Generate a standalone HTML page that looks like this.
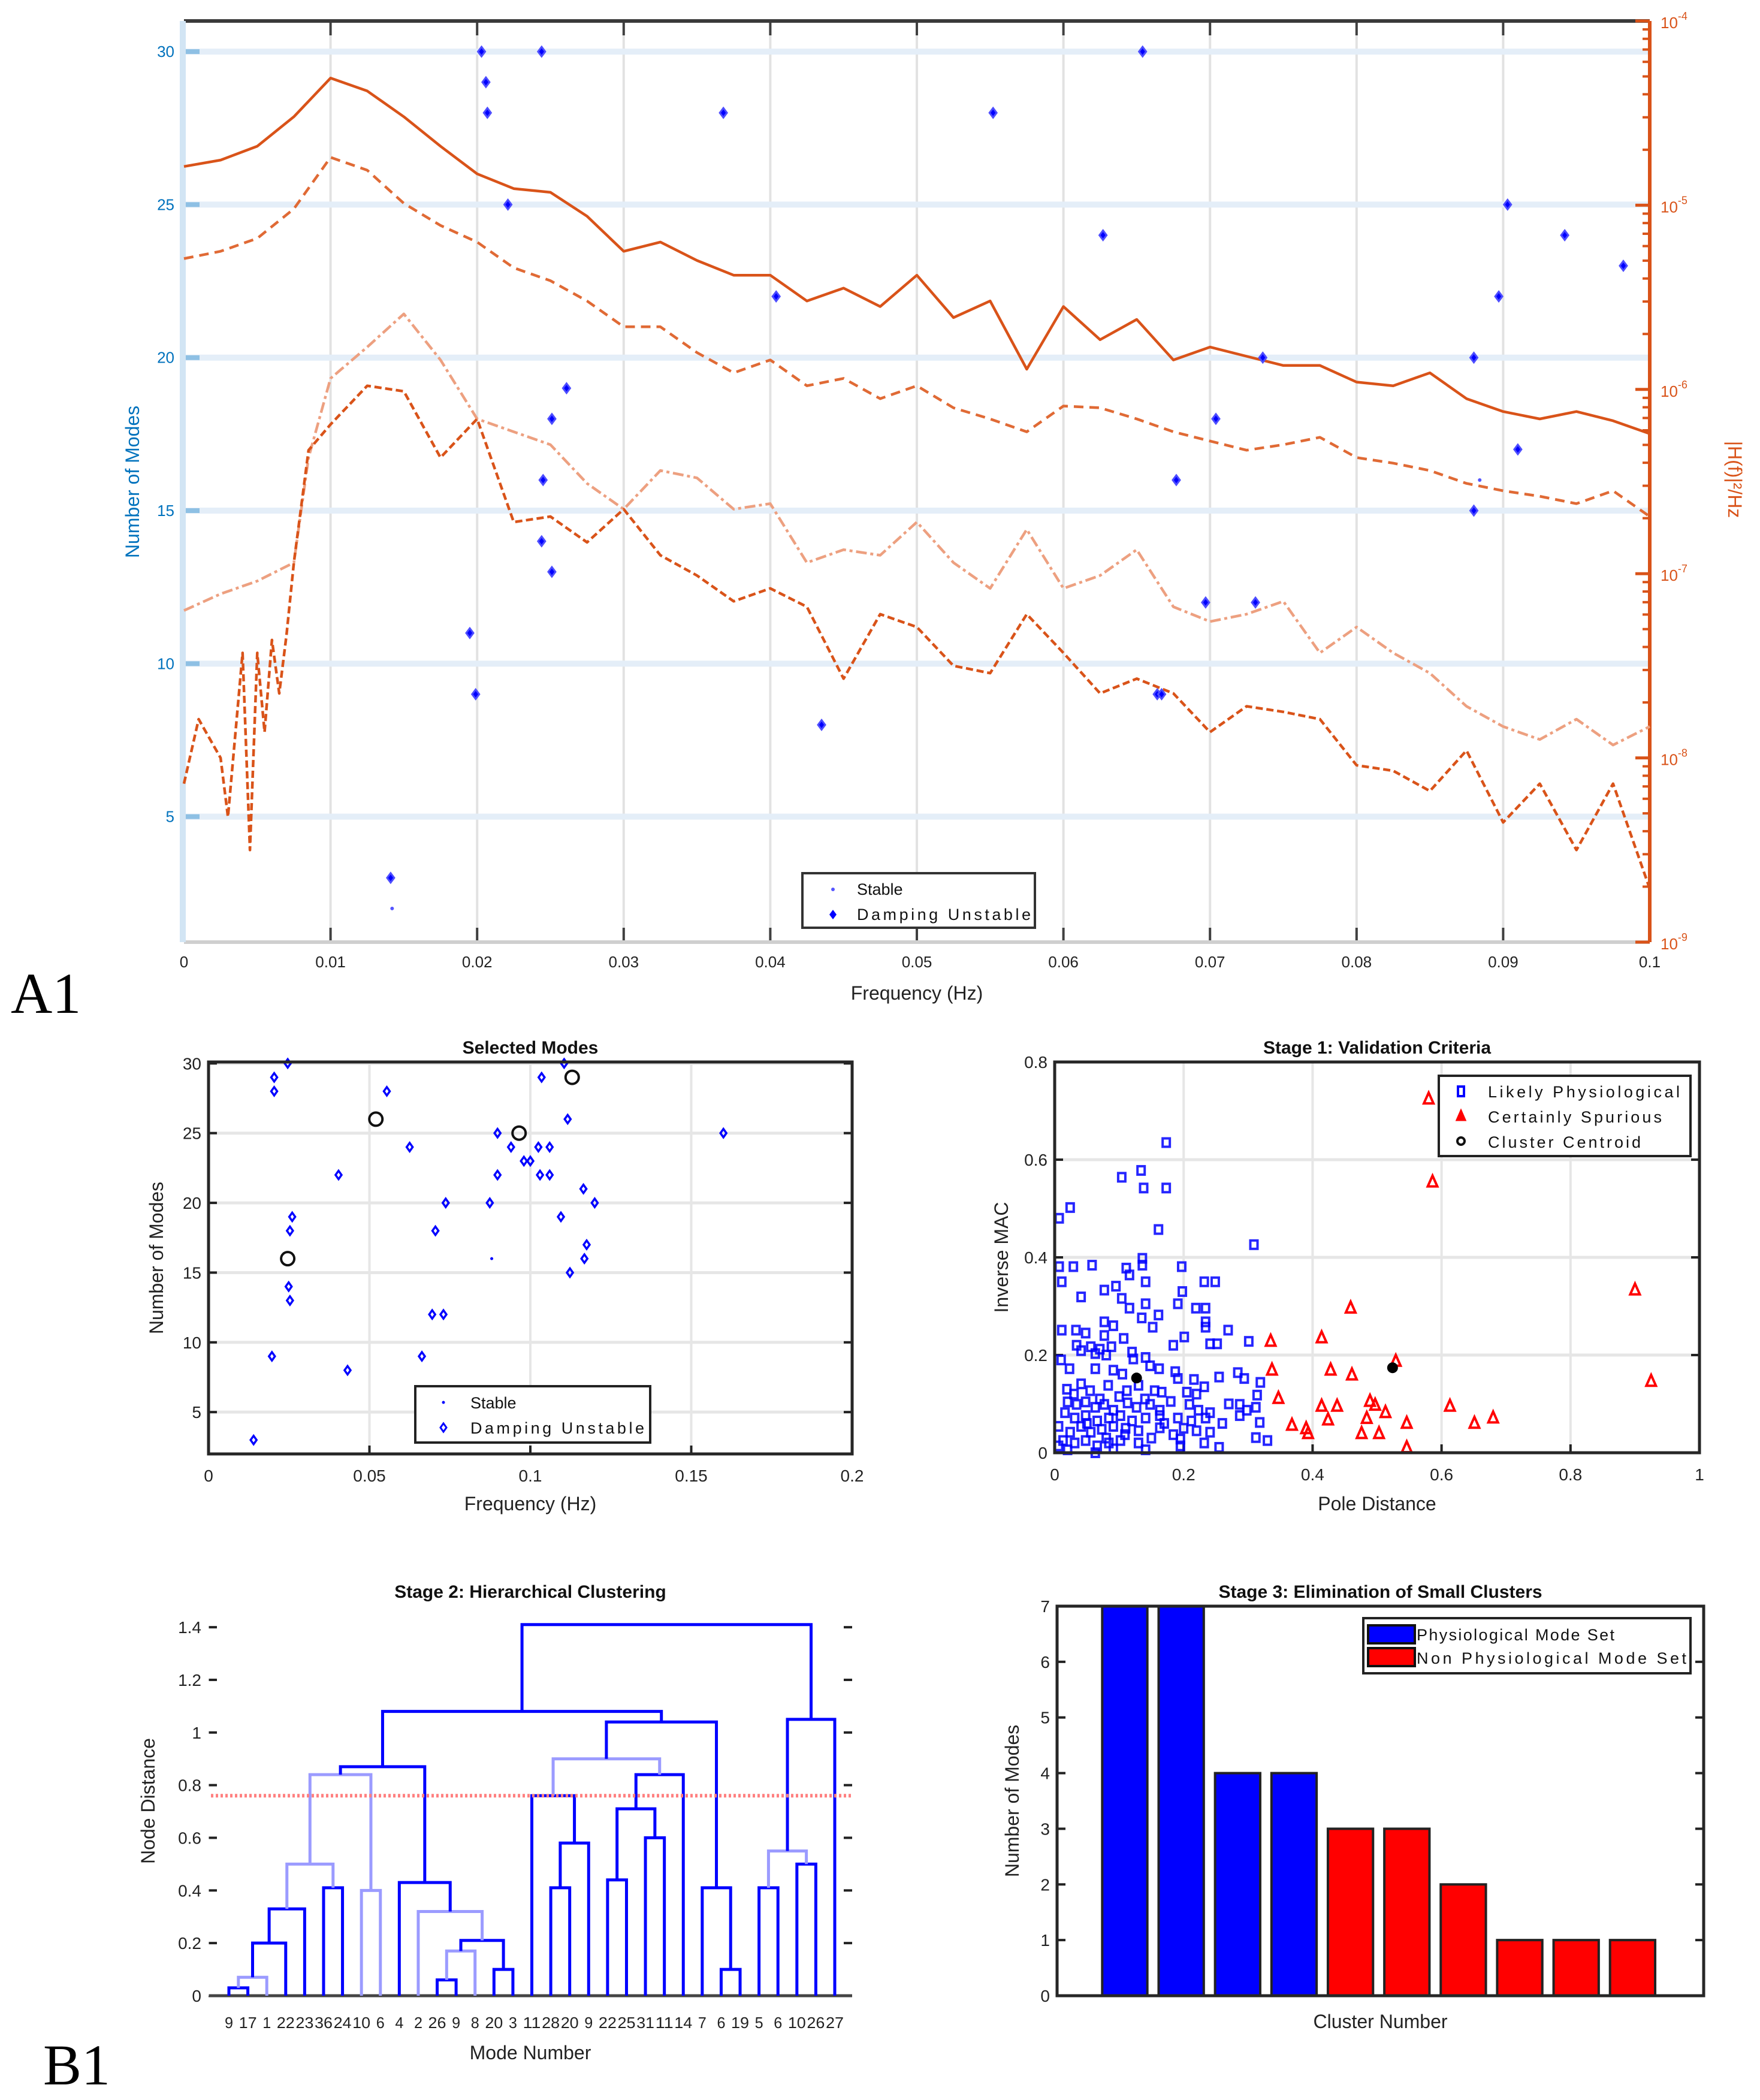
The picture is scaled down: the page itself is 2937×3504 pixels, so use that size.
<!DOCTYPE html>
<html><head><meta charset="utf-8">
<style>
html,body{margin:0;padding:0;background:#fff;}
svg{display:block;font-family:"Liberation Sans",Arial,sans-serif;}
</style></head>
<body>
<svg id="chart" xmlns="http://www.w3.org/2000/svg" width="2937" height="3504" viewBox="0 0 2937 3504">
<rect x="0" y="0" width="2937" height="3504" fill="#fff"/>
<text x="18" y="1690" font-family="Liberation Serif,serif" font-size="96">A1</text>
<text x="72" y="3478" font-family="Liberation Serif,serif" font-size="96">B1</text>
</svg>
<script>
// ===== A1 data =====
const psdFreq = [0,0.0025,0.005,0.0075,0.01,0.0125,0.015,0.0175,0.02,0.0225,0.025,0.0275,0.03,0.0325,0.035,0.0375,0.04,0.0425,0.045,0.0475,0.05,0.0525,0.055,0.0575,0.06,0.0625,0.065,0.0675,0.07,0.0725,0.075,0.0775,0.08,0.0825,0.085,0.0875,0.09,0.0925,0.095,0.0975,0.1];
const psd1Log = [-4.79,-4.755,-4.68,-4.52,-4.31,-4.38,-4.52,-4.68,-4.83,-4.91,-4.93,-5.06,-5.25,-5.2,-5.3,-5.38,-5.38,-5.52,-5.45,-5.55,-5.38,-5.61,-5.52,-5.89,-5.55,-5.73,-5.62,-5.84,-5.77,-5.82,-5.87,-5.87,-5.96,-5.98,-5.91,-6.05,-6.12,-6.16,-6.12,-6.17,-6.24];
const psd2Log = [-5.29,-5.25,-5.18,-5.02,-4.74,-4.81,-4.99,-5.11,-5.2,-5.34,-5.41,-5.52,-5.66,-5.66,-5.8,-5.91,-5.84,-5.98,-5.94,-6.05,-5.98,-6.1,-6.16,-6.23,-6.09,-6.1,-6.16,-6.23,-6.28,-6.33,-6.3,-6.26,-6.37,-6.4,-6.44,-6.51,-6.55,-6.58,-6.62,-6.55,-6.69];
const psd3Freq = [0,0.0025,0.005,0.0075,0.0085,0.01,0.0125,0.015,0.0175,0.02,0.0225,0.025,0.0275,0.03,0.0325,0.035,0.0375,0.04,0.0425,0.045,0.0475,0.05,0.0525,0.055,0.0575,0.06,0.0625,0.065,0.0675,0.07,0.0725,0.075,0.0775,0.08,0.0825,0.085,0.0875,0.09,0.0925,0.095,0.0975,0.1];
const psd3Log = [-7.2,-7.11,-7.04,-6.94,-6.37,-5.94,-5.77,-5.59,-5.84,-6.16,-6.23,-6.3,-6.51,-6.65,-6.44,-6.48,-6.65,-6.62,-6.94,-6.87,-6.9,-6.72,-6.94,-7.08,-6.76,-7.08,-7.01,-6.87,-7.18,-7.26,-7.22,-7.15,-7.43,-7.29,-7.43,-7.54,-7.72,-7.83,-7.9,-7.79,-7.93,-7.83];
const psd4Freq = [0,0.001,0.0025,0.003,0.004,0.0045,0.005,0.0055,0.006,0.0065,0.007,0.0075,0.0085,0.01,0.0125,0.015,0.0175,0.02,0.0225,0.025,0.0275,0.03,0.0325,0.035,0.0375,0.04,0.0425,0.045,0.0475,0.05,0.0525,0.055,0.0575,0.06,0.0625,0.065,0.0675,0.07,0.0725,0.075,0.0775,0.08,0.0825,0.085,0.0875,0.09,0.0925,0.095,0.0975,0.1];
const psd4Log = [-8.14,-7.79,-8.0,-8.32,-7.43,-8.5,-7.43,-7.86,-7.36,-7.65,-7.33,-6.94,-6.33,-6.19,-5.98,-6.01,-6.37,-6.16,-6.72,-6.69,-6.83,-6.65,-6.9,-7.01,-7.15,-7.08,-7.18,-7.57,-7.22,-7.29,-7.5,-7.54,-7.22,-7.43,-7.65,-7.57,-7.65,-7.86,-7.72,-7.75,-7.79,-8.04,-8.07,-8.18,-7.96,-8.35,-8.14,-8.5,-8.14,-8.71];
const unstFreq = [0.0203,0.0244,0.0654,0.0206,0.0207,0.0368,0.0552,0.0221,0.0627,0.0903,0.0942,0.0982,0.0404,0.0897,0.0736,0.088,0.0261,0.0251,0.0704,0.091,0.0245,0.0677,0.088,0.0244,0.0251,0.0697,0.0731,0.0195,0.0199,0.0664,0.0667,0.0435,0.0141];
const unstModes = [30,30,30,29,28,28,28,25,24,25,24,23,22,22,20,20,19,18,18,17,16,16,15,14,13,12,12,11,9,9,9,8,3];
const stabFreq = [0.0884,0.0142];
const stabModes = [16,2];
const a1XTicks = [0,0.01,0.02,0.03,0.04,0.05,0.06,0.07,0.08,0.09,0.1];
const a1XTickLabels = ["0","0.01","0.02","0.03","0.04","0.05","0.06","0.07","0.08","0.09","0.1"];
const a1YTicks = [5,10,15,20,25,30];
const a1RTicks = [-9,-8,-7,-6,-5,-4];

// ===== Selected modes data =====
const selFreq = [0.0246,0.0204,0.0204,0.0554,0.1105,0.1035,0.1116,0.0898,0.160,0.0625,0.094,0.1025,0.106,0.0404,0.0898,0.098,0.1,0.103,0.106,0.1165,0.12,0.0737,0.0874,0.026,0.1095,0.0253,0.0705,0.1175,0.1168,0.1123,0.0249,0.0253,0.0695,0.073,0.0197,0.0663,0.0432,0.014];
const selModes = [30,29,28,28,30,29,26,25,25,24,24,24,24,22,22,23,23,22,22,21,20,20,20,19,19,18,18,17,16,15,14,13,12,12,9,9,8,3];
const selStabFreq = [0.088,0.014];
const selStabModes = [16,2];
const selCentFreq = [0.113,0.052,0.0965,0.0246];
const selCentModes = [29,26,25,16];

// ===== Stage 1 data =====
const physPole = [0.173,0.104,0.134,0.138,0.173,0.024,0.007,0.161,0.309,0.007,0.029,0.058,0.111,0.136,0.136,0.197,0.011,0.116,0.141,0.232,0.249,0.041,0.077,0.095,0.104,0.141,0.198,0.191,0.219,0.234,0.116,0.161,0.135,0.077,0.091,0.234,0.234,0.152,0.269,0.011,0.033,0.048,0.077,0.107,0.201,0.184,0.241,0.252,0.301,0.034,0.056,0.07,0.088,0.12,0.041,0.063,0.141,0.122,0.08,0.023,0.063,0.091,0.105,0.148,0.162,0.187,0.191,0.216,0.255,0.284,0.294,0.319,0.232,0.205,0.019,0.041,0.055,0.083,0.112,0.13,0.155,0.166,0.314,0.02,0.034,0.048,0.063,0.077,0.091,0.113,0.127,0.148,0.163,0.209,0.223,0.241,0.287,0.298,0.312,0.016,0.031,0.048,0.066,0.084,0.102,0.12,0.141,0.163,0.191,0.212,0.234,0.287,0.006,0.024,0.041,0.056,0.073,0.091,0.109,0.13,0.163,0.184,0.22,0.241,0.318,0.013,0.031,0.048,0.066,0.084,0.102,0.13,0.141,0.195,0.195,0.232,0.255,0.312,0.33,0.02,0.063,0.091,0.006,0.03,0.07,0.1,0.14,0.18,0.05,0.11,0.15,0.08,0.17,0.2,0.26,0.27,0.22,0.01];
const physMac = [0.635,0.564,0.578,0.542,0.542,0.502,0.48,0.457,0.426,0.381,0.381,0.384,0.378,0.384,0.398,0.381,0.35,0.364,0.35,0.35,0.35,0.319,0.333,0.341,0.316,0.305,0.33,0.305,0.296,0.296,0.296,0.282,0.276,0.268,0.26,0.268,0.257,0.257,0.251,0.251,0.251,0.245,0.24,0.234,0.237,0.22,0.223,0.223,0.228,0.22,0.217,0.212,0.217,0.206,0.209,0.203,0.195,0.192,0.2,0.172,0.172,0.169,0.161,0.178,0.172,0.166,0.152,0.15,0.155,0.164,0.152,0.144,0.135,0.124,0.13,0.141,0.127,0.138,0.127,0.138,0.127,0.124,0.118,0.104,0.099,0.104,0.093,0.099,0.087,0.102,0.093,0.099,0.087,0.099,0.087,0.082,0.099,0.087,0.093,0.082,0.071,0.076,0.065,0.071,0.076,0.065,0.071,0.076,0.071,0.065,0.071,0.076,0.054,0.042,0.054,0.042,0.048,0.054,0.037,0.045,0.051,0.037,0.045,0.042,0.062,0.025,0.02,0.025,0.014,0.02,0.025,0.02,0.006,0.014,0.028,0.02,0.011,0.031,0.025,0.006,0,0.008,0.014,0.12,0.11,0.115,0.11,0.105,0.06,0.05,0.03,0.03,0.06,0.05,0.06,0.1,0.12,0.19];
const spurPole = [0.58,0.586,0.90,0.925,0.459,0.335,0.414,0.337,0.428,0.461,0.529,0.347,0.414,0.438,0.489,0.497,0.513,0.613,0.546,0.368,0.393,0.424,0.476,0.503,0.546,0.651,0.68,0.39,0.484];
const spurMac = [0.725,0.555,0.334,0.147,0.297,0.229,0.236,0.17,0.17,0.16,0.188,0.112,0.096,0.096,0.106,0.098,0.083,0.096,0.061,0.057,0.04,0.068,0.04,0.04,0.011,0.061,0.072,0.05,0.071];
const centPole = [0.127,0.524];
const centMac = [0.153,0.174];

// ===== Stage 2 data =====
const leafLabels = ["9","17","1","22","23","36","24","10","6","4","2","26","9","8","20","3","11","28","20","9","22","25","31","11","14","7","6","19","5","6","10","26","27"];
const linkLeft  = [0,33,34,35,5,36,7,38,11,41,14,42,10,9,40,17,48,16,20,22,51,53,50,26,25,55,47,28,30,60,62,59];
const linkRight = [1,2,3,4,6,37,8,39,12,13,15,43,44,45,46,18,19,49,21,23,52,24,54,27,56,57,58,29,31,61,32,63];
const linkHeight = [0.03,0.07,0.2,0.33,0.41,0.5,0.4,0.84,0.06,0.17,0.1,0.21,0.32,0.43,0.87,0.41,0.58,0.76,0.44,0.6,0.71,0.84,0.9,0.1,0.41,1.04,1.08,0.41,0.5,0.55,1.05,1.41];
const linkLight = [0,1,0,0,0,1,1,1,0,1,0,0,1,0,0,0,0,0,0,0,0,0,1,0,0,0,0,0,0,1,0,0];
const cutoffHeight = 0.76;

// ===== Stage 3 data =====
const clusterIds = [1,2,3,4,5,6,7,8,9,10];
const clusterCounts = [7,7,4,4,3,3,2,1,1,1];
const clusterPhys = [1,1,1,1,0,0,0,0,0,0];
</script>
<script>
const NS = "http://www.w3.org/2000/svg";
const svg = document.getElementById('chart');
function el(tag, attrs, parent){
  const e = document.createElementNS(NS, tag);
  for (const k in attrs) e.setAttribute(k, attrs[k]);
  (parent||svg).appendChild(e);
  return e;
}
function txt(s, attrs, parent){
  const e = el('text', attrs, parent);
  e.textContent = s;
  return e;
}
function lin(a,b,c,d){ return v => c + (v-a)/(b-a)*(d-c); }

// ================= A1 =================
const A = {x0:307,x1:2753,y0:35,y1:1572};
const ax = lin(0,0.1,A.x0,A.x1);
const ayL = lin(0.9,31,A.y1,A.y0);
const ayR = lin(-9,-4,A.y1,A.y0);
const gA = el('g',{});


// grid
a1XTicks.forEach((t,i)=>{
  const g = el('line',{x1:ax(t),x2:ax(t),y1:A.y0,y2:A.y1,stroke:'#e2e2e2','stroke-width':4},gA);
  
  
  const tk = el('line',{x1:ax(t),x2:ax(t),y1:A.y0,y2:A.y0+24,stroke:'#404040','stroke-width':4},gA);
  
  
  const tb = el('line',{x1:ax(t),x2:ax(t),y1:A.y1,y2:A.y1-24,stroke:'#404040','stroke-width':4},gA);
  
  
  const l = txt(a1XTickLabels[i],{x:ax(t),y:A.y1+42,'text-anchor':'middle','font-size':26,fill:'#222'},gA);
  
  
});
a1YTicks.forEach(t=>{
  const g = el('line',{x1:A.x0,x2:A.x1,y1:ayL(t),y2:ayL(t),stroke:'#e4eef8','stroke-width':10},gA);
  
  
  const tk = el('line',{x1:A.x0,x2:A.x0+26,y1:ayL(t),y2:ayL(t),stroke:'#8ec0e4','stroke-width':8},gA);
  
  
  const l = txt(String(t),{x:A.x0-16,y:ayL(t)+9,'text-anchor':'end','font-size':26,fill:'#0072bd'},gA);
  
  
});
// frame
const topAx = el('line',{x1:A.x0,x2:A.x1,y1:A.y0,y2:A.y0,stroke:'#3a3a3a','stroke-width':6},gA);


const botAx = el('line',{x1:A.x0,x2:A.x1,y1:A.y1,y2:A.y1,stroke:'#cfcfcf','stroke-width':6},gA);


const leftAx = el('line',{x1:A.x0-2,x2:A.x0-2,y1:A.y0,y2:A.y1,stroke:'#d2e5f4','stroke-width':10},gA);


const rightAx = el('line',{x1:A.x1,x2:A.x1,y1:A.y0,y2:A.y1,stroke:'#d95319','stroke-width':6},gA);


a1RTicks.forEach(t=>{
  const tk = el('line',{x1:A.x1-24,x2:A.x1,y1:ayR(t),y2:ayR(t),stroke:'#d95319','stroke-width':5},gA);
  
  
  const l = txt('10',{x:A.x1+18,y:ayR(t)+12,'font-size':26,fill:'#d95319'},gA);
  
  
  const sup = el('tspan',{dy:-14,'font-size':18},l);
  sup.textContent = String(t);
  if (t>-9){
    for (let m=2;m<10;m++){
      const v = t-1+Math.log10(m);
      const mk = el('line',{x1:A.x1-12,x2:A.x1,y1:ayR(v),y2:ayR(v),stroke:'#d95319','stroke-width':4},gA);
      
      
    }
  }
});
const xl = txt('Frequency (Hz)',{x:(A.x0+A.x1)/2,y:1668,'text-anchor':'middle','font-size':32,fill:'#222'},gA);


const yl = txt('Number of Modes',{x:0,y:0,'text-anchor':'middle','font-size':32,fill:'#0072bd',transform:'translate(232,804) rotate(-90)'},gA);


const yr = txt('|H(f)|²/Hz',{x:0,y:0,'text-anchor':'middle','font-size':32,fill:'#d95319',transform:'translate(2884,800) rotate(90)'},gA);


// curves
function curve(fr, vals, color, dash, name){
  const d = fr.map((f,i)=>(i?'L':'M')+ax(f).toFixed(1)+','+ayR(vals[i]).toFixed(1)).join(' ');
  const p = el('path',{d:d,fill:'none',stroke:color,'stroke-width':4.5,'stroke-dasharray':dash,'stroke-linejoin':'round'},gA);
  
  
}
curve(psdFreq,psd1Log,'#d95319','none','psd-line-1');
curve(psdFreq,psd2Log,'#e06a35','16 10','psd-line-2');
curve(psd3Freq,psd3Log,'#eda080','18 6 5 6','psd-line-3');
curve(psd4Freq,psd4Log,'#d95319','12 6','psd-line-4');
// points
unstFreq.forEach((f,i)=>{
  const x=ax(f), y=ayL(unstModes[i]);
  const m = el('path',{d:`M${x},${y-8} L${x+6},${y} L${x},${y+8} L${x-6},${y} Z`,fill:'#0000ff',stroke:'#4d4dff','stroke-width':3},gA);
  
  
});
stabFreq.forEach((f,i)=>{
  const m = el('circle',{cx:ax(f),cy:ayL(stabModes[i]),r:3,fill:'#5555ff'},gA);
  
  
});
// legend
const lgA = el('g',{},gA);


const lbA = el('rect',{x:1339,y:1457,width:388,height:91,fill:'#fff',stroke:'#333','stroke-width':4},lgA);


const le1 = el('circle',{cx:1390,cy:1484,r:3,fill:'#5555ff'},lgA);


const lt1 = txt('Stable',{x:1430,y:1493,'font-size':27,fill:'#111'},lgA);


const le2 = el('path',{d:'M1390,1518 L1396,1526 L1390,1534 L1384,1526 Z',fill:'#0000ff'},lgA);


const lt2 = txt('Damping Unstable',{x:1430,y:1535,'font-size':27,fill:'#111',textLength:290},lgA);



// ================= generic panel =================
function panel(o){
  const g = el('g',{});
  
  
  const sx = lin(o.xlim[0],o.xlim[1],o.x0,o.x1);
  const sy = lin(o.ylim[0],o.ylim[1],o.y1,o.y0);
  if (o.grid){
    o.xt.forEach(t=>{
      const l = el('line',{x1:sx(t),x2:sx(t),y1:o.y0,y2:o.y1,stroke:'#e6e6e6','stroke-width':4},g);
      
      
    });
    o.yt.forEach(t=>{
      const l = el('line',{x1:o.x0,x2:o.x1,y1:sy(t),y2:sy(t),stroke:'#e6e6e6','stroke-width':5},g);
      
      
    });
  }
  if (o.xt) o.xt.forEach((t,i)=>{
    const k = el('line',{x1:sx(t),x2:sx(t),y1:o.y1,y2:o.y1-14,stroke:'#222','stroke-width':4},g);
    
    
    const l = txt(o.xtl[i],{x:sx(t),y:o.y1+46,'text-anchor':'middle','font-size':28,fill:'#222'},g);
    
    
  });
  o.yt.forEach((t,i)=>{
    const k = el('line',{x1:o.x0,x2:o.x0+14,y1:sy(t),y2:sy(t),stroke:'#222','stroke-width':4},g);
    
    
    const k2 = el('line',{x1:o.x1,x2:o.x1-14,y1:sy(t),y2:sy(t),stroke:'#222','stroke-width':4},g);
    
    
    const l = txt(o.ytl[i],{x:o.x0-12,y:sy(t)+10,'text-anchor':'end','font-size':28,fill:'#222'},g);
    
    
  });
  const t = txt(o.title,{x:(o.x0+o.x1)/2,y:o.y0-14,'text-anchor':'middle','font-size':30,'font-weight':'bold',fill:'#111'},g);
  
  
  const xl = txt(o.xlabel,{x:(o.x0+o.x1)/2,y:o.xly,'text-anchor':'middle','font-size':32,fill:'#222'},g);
  
  
  const yl = txt(o.ylabel,{x:0,y:0,'text-anchor':'middle','font-size':32,fill:'#222',transform:`translate(${o.ylx},${(o.y0+o.y1)/2}) rotate(-90)`},g);
  
  
  return {g,sx,sy,frame:()=>{
    const f = el('rect',{x:o.x0,y:o.y0,width:o.x1-o.x0,height:o.y1-o.y0,fill:'none',stroke:'#262626','stroke-width':5},g);
    
    
  }};
}

// ================= Selected Modes =================
const P1 = panel({name:'selected-modes-chart',x0:348,x1:1422,y0:1772,y1:2426,xlim:[0,0.2],ylim:[2,30.1],grid:true,
  xt:[0,0.05,0.1,0.15,0.2],xtl:['0','0.05','0.1','0.15','0.2'],yt:[5,10,15,20,25,30],ytl:['5','10','15','20','25','30'],
  title:'Selected Modes',xlabel:'Frequency (Hz)',xly:2520,ylabel:'Number of Modes',ylx:272});
selFreq.forEach((f,i)=>{
  const x=P1.sx(f), y=P1.sy(selModes[i]);
  const m = el('path',{d:`M${x},${y-7} L${x+5},${y} L${x},${y+7} L${x-5},${y} Z`,fill:'none',stroke:'#0000ff','stroke-width':3.5},P1.g);
  
  
});
selStabFreq.forEach((f,i)=>{
  const m = el('circle',{cx:P1.sx(f),cy:P1.sy(selStabModes[i]),r:2.5,fill:'#0000ff'},P1.g);
  
  
});
selCentFreq.forEach((f,i)=>{
  const m = el('circle',{cx:P1.sx(f),cy:P1.sy(selCentModes[i]),r:11,fill:'none',stroke:'#111','stroke-width':4},P1.g);
  
  
});
P1.frame();
{
  const lg = el('g',{},P1.g);
  
  
  const b = el('rect',{x:693,y:2313,width:392,height:94,fill:'#fff',stroke:'#222','stroke-width':4},lg);
  
  
  const m1 = el('circle',{cx:740,cy:2340,r:2.5,fill:'#0000ff'},lg);
  
  
  const t1 = txt('Stable',{x:785,y:2350,'font-size':27,fill:'#111'},lg);
  
  
  const m2 = el('path',{d:'M740,2375 L745,2382 L740,2389 L735,2382 Z',fill:'none',stroke:'#0000ff','stroke-width':3},lg);
  
  
  const t2 = txt('Damping Unstable',{x:785,y:2392,'font-size':27,fill:'#111',textLength:290},lg);
  
  
}

// ================= Stage 1 =================
const P2 = panel({name:'validation-criteria-chart',x0:1760,x1:2836,y0:1772,y1:2424,xlim:[0,1],ylim:[0,0.8],grid:true,
  xt:[0,0.2,0.4,0.6,0.8,1],xtl:['0','0.2','0.4','0.6','0.8','1'],yt:[0,0.2,0.4,0.6,0.8],ytl:['0','0.2','0.4','0.6','0.8'],
  title:'Stage 1: Validation Criteria',xlabel:'Pole Distance',xly:2520,ylabel:'Inverse MAC',ylx:1682});
physPole.forEach((p,i)=>{
  const x=P2.sx(p), y=P2.sy(physMac[i]);
  const m = el('rect',{x:x-6,y:y-7,width:12,height:14,fill:'none',stroke:'#0000ff','stroke-width':4,opacity:0.85},P2.g);
  
  
});
spurPole.forEach((p,i)=>{
  const x=P2.sx(p), y=P2.sy(spurMac[i]);
  const m = el('path',{d:`M${x},${y-10} L${x+8},${y+8} L${x-8},${y+8} Z`,fill:'none',stroke:'#ff0000','stroke-width':4},P2.g);
  
  
});
centPole.forEach((p,i)=>{
  const m = el('circle',{cx:P2.sx(p),cy:P2.sy(centMac[i]),r:9,fill:'#000'},P2.g);
  
  
});
P2.frame();
{
  const lg = el('g',{},P2.g);
  
  
  const b = el('rect',{x:2401,y:1795,width:420,height:134,fill:'#fff',stroke:'#222','stroke-width':4},lg);
  
  
  const m1 = el('rect',{x:2433,y:1813,width:10,height:16,fill:'none',stroke:'#0000ff','stroke-width':4},lg);
  
  
  const t1 = txt('Likely Physiological',{x:2483,y:1831,'font-size':27,fill:'#111',textLength:320},lg);
  
  
  const m2 = el('path',{d:'M2438,1853 L2445,1869 L2431,1869 Z',fill:'#ff0000',stroke:'#ff0000','stroke-width':3},lg);
  
  
  const t2 = txt('Certainly Spurious',{x:2483,y:1873,'font-size':27,fill:'#111',textLength:290},lg);
  
  
  const m3 = el('circle',{cx:2438,cy:1904,r:6,fill:'none',stroke:'#111','stroke-width':4},lg);
  
  
  const t3 = txt('Cluster Centroid',{x:2483,y:1915,'font-size':27,fill:'#111',textLength:255},lg);
  
  
}

// ================= Stage 2 =================
const P3 = panel({name:'hierarchical-clustering-chart',x0:348,x1:1422,y0:2680,y1:3330,xlim:[0,1],ylim:[0,1.48],grid:false,
  xt:null,yt:[0,0.2,0.4,0.6,0.8,1,1.2,1.4],ytl:['0','0.2','0.4','0.6','0.8','1','1.2','1.4'],
  title:'Stage 2: Hierarchical Clustering',xlabel:'Mode Number',xly:3436,ylabel:'Node Distance',ylx:258});
{
  const bx = el('line',{x1:348,x2:1422,y1:3330,y2:3330,stroke:'#444','stroke-width':5},P3.g);
  
  
  const ly = el('line',{x1:348,x2:348,y1:2680,y2:3330,stroke:'#fff','stroke-width':1},P3.g);
  
  
  const nLeaf = leafLabels.length;
  const lx = i => 382 + i*(1393-382)/(nLeaf-1);
  const nodeX = [], nodeH = [];
  leafLabels.forEach((s,i)=>{
    nodeX.push(lx(i)); nodeH.push(0);
    const t = txt(s,{x:lx(i),y:3384,'text-anchor':'middle','font-size':26,fill:'#222',textLength:s.length>1?30:14,lengthAdjust:'spacingAndGlyphs'},P3.g);
    
    
  });
  linkLeft.forEach((a,k)=>{
    const b = linkRight[k], h = linkHeight[k];
    const xa = nodeX[a], xb = nodeX[b], y = P3.sy(h);
    const col = linkLight[k] ? '#9b9bff' : '#0000ff';
    const p = el('path',{d:`M${xa},${P3.sy(nodeH[a])} L${xa},${y} L${xb},${y} L${xb},${P3.sy(nodeH[b])}`,fill:'none',stroke:col,'stroke-width':5},P3.g);
    
    
    nodeX.push((xa+xb)/2); nodeH.push(h);
  });
  const cut = el('line',{x1:352,x2:1420,y1:P3.sy(cutoffHeight),y2:P3.sy(cutoffHeight),stroke:'#ff8080','stroke-width':6,'stroke-dasharray':'4 4'},P3.g);
  
  
}

// ================= Stage 3 =================
const P4 = panel({name:'cluster-elimination-chart',x0:1764,x1:2843,y0:2680,y1:3330,xlim:[-0.2,11.26],ylim:[0,7],grid:false,
  xt:null,yt:[0,1,2,3,4,5,6,7],ytl:['0','1','2','3','4','5','6','7'],
  title:'Stage 3: Elimination of Small Clusters',xlabel:'Cluster Number',xly:3384,ylabel:'Number of Modes',ylx:1700});
clusterIds.forEach((c,i)=>{
  const x = P4.sx(c), w = P4.sx(c+0.4)-P4.sx(c-0.4);
  const r = el('rect',{x:x-w/2,y:P4.sy(clusterCounts[i]),width:w,height:P4.sy(0)-P4.sy(clusterCounts[i]),fill:clusterPhys[i]?'#0000ff':'#ff0000',stroke:'#222','stroke-width':4},P4.g);
  
  
});
P4.frame();
{
  const lg = el('g',{},P4.g);
  
  
  const b = el('rect',{x:2275,y:2700,width:546,height:92,fill:'#fff',stroke:'#222','stroke-width':4},lg);
  
  
  const m1 = el('rect',{x:2283,y:2712,width:78,height:30,fill:'#0000ff',stroke:'#111','stroke-width':4},lg);
  
  
  const t1 = txt('Physiological Mode Set',{x:2364,y:2737,'font-size':27,fill:'#111',textLength:330},lg);
  
  
  const m2 = el('rect',{x:2283,y:2750,width:78,height:30,fill:'#ff0000',stroke:'#111','stroke-width':4},lg);
  
  
  const t2 = txt('Non Physiological Mode Set',{x:2364,y:2776,'font-size':27,fill:'#111',textLength:450},lg);
  
  
}
</script>
</body></html>
